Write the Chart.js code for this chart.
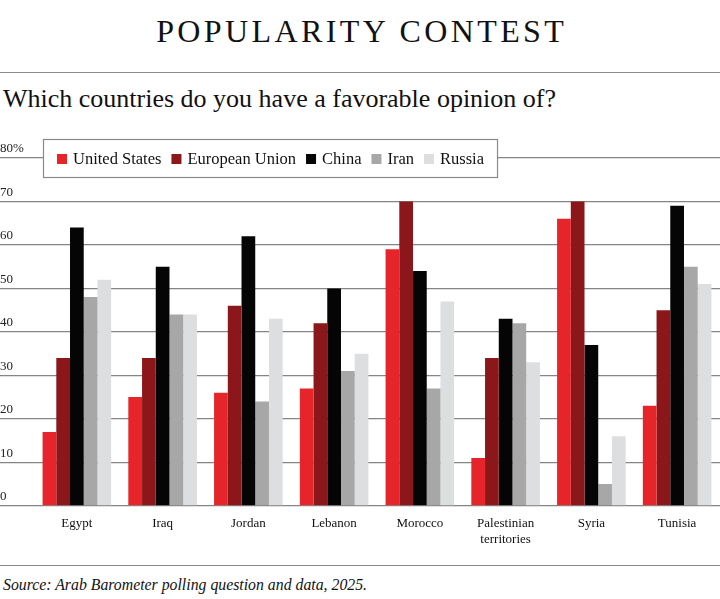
<!DOCTYPE html>
<html>
<head>
<meta charset="utf-8">
<script src="https://cdn.jsdelivr.net/npm/chart.js@4.4.1/dist/chart.umd.min.js"></script>
<style>
html,body{margin:0;padding:0;background:#fff;width:720px;height:599px;overflow:hidden;font-family:"Liberation Serif",serif;color:#111;}
.abs{position:absolute;left:0;white-space:nowrap;}
#title{top:15px;width:720px;text-align:center;font-size:32px;line-height:32px;letter-spacing:3.4px;text-indent:3.4px;}
#rule1{top:72px;width:720px;height:0;border-top:1.5px solid #8a8a8a;}
#subtitle{top:85.5px;left:3px;font-size:26px;line-height:26px;}
#wrap{top:130px;width:720px;height:430px;}
#rule2{top:565px;width:720px;height:0;border-top:1.5px solid #8a8a8a;}
#source{top:577px;left:3px;font-size:15.8px;line-height:16px;font-style:italic;}
</style>
</head>
<body>
<div id="title" class="abs">POPULARITY CONTEST</div>
<div id="rule1" class="abs"></div>
<div id="subtitle" class="abs">Which countries do you have a favorable opinion of?</div>
<div id="wrap" class="abs"><canvas id="c" width="720" height="430"></canvas></div>
<div id="rule2" class="abs"></div>
<div id="source" class="abs">Source: Arab Barometer polling question and data, 2025.</div>
<script>
const categories = ['Egypt', 'Iraq', 'Jordan', 'Lebanon', 'Morocco', ['Palestinian', 'territories'], 'Syria', 'Tunisia'];
const seriesNames = ['United States', 'European Union', 'China', 'Iran', 'Russia'];
const usValues = [17, 25, 26, 27, 59, 11, 66, 23];
const euValues = [34, 34, 46, 42, 70, 34, 70, 45];
const chinaValues = [64, 55, 62, 50, 54, 43, 37, 69];
const iranValues = [48, 44, 24, 31, 27, 42, 5, 55];
const russiaValues = [52, 44, 43, 35, 47, 33, 16, 51];
const yTickValues = [0, 10, 20, 30, 40, 50, 60, 70, 80];
const seriesColors = ['#e5252a', '#8b171b', '#050505', '#a7a7a7', '#dddee0'];

const seriesValues = [usValues, euValues, chinaValues, iranValues, russiaValues];
const FONT = '"Liberation Serif", serif';

const boxLegend = {
  id: 'boxLegend',
  afterDraw(chart) {
    const ctx = chart.ctx;
    const cy = chart.scales.y.getPixelForValue(80);
    ctx.save();
    ctx.font = '16.5px ' + FONT;
    const sw = 10, gapText = 6, gapItem = 10, padL = 14, padR = 13;
    const items = chart.data.datasets.map(d => ({label: d.label, color: d.backgroundColor, w: ctx.measureText(d.label).width}));
    let total = padL + padR;
    items.forEach((it, i) => { total += sw + gapText + it.w + (i < items.length - 1 ? gapItem : 0); });
    const x0 = 43, y0 = Math.round(cy - 19), h = 38;
    ctx.fillStyle = '#fff';
    ctx.fillRect(x0, y0, total, h);
    ctx.strokeStyle = '#8a8a8a';
    ctx.lineWidth = 1.2;
    ctx.strokeRect(x0 + 0.5, y0 + 0.5, total, h);
    let x = x0 + padL;
    ctx.textBaseline = 'alphabetic';
    ctx.textAlign = 'left';
    items.forEach(it => {
      ctx.fillStyle = it.color;
      ctx.fillRect(x, cy - 4, sw, sw);
      x += sw + gapText;
      ctx.fillStyle = '#111';
      ctx.fillText(it.label, x, cy + 6);
      x += it.w + gapItem;
    });
    ctx.restore();
  }
};

new Chart(document.getElementById('c'), {
  type: 'bar',
  data: {
    labels: categories,
    datasets: seriesNames.map((name, i) => ({
      label: name,
      data: seriesValues[i],
      backgroundColor: seriesColors[i],
      borderWidth: 0,
      categoryPercentage: 0.8,
      barPercentage: 1.0
    }))
  },
  options: {
    responsive: false,
    animation: false,
    layout: {padding: {top: 28, bottom: 3, left: 0, right: 0}},
    plugins: {legend: {display: false}, tooltip: {enabled: false}, title: {display: false}},
    scales: {
      x: {
        grid: {display: false, drawTicks: false, tickLength: 0},
        border: {display: false},
        ticks: {font: {family: FONT, size: 13}, color: '#111', padding: 10, maxRotation: 0, autoSkip: false}
      },
      y: {
        min: 0,
        max: 80,
        afterBuildTicks: s => { s.ticks = yTickValues.map(v => ({value: v})); },
        afterFit: s => { s.width = 34; },
        ticks: {
          callback: v => (v === 80 ? v + '%' : String(v)),
          crossAlign: 'far',
          labelOffset: -9,
          padding: 0,
          font: {family: FONT, size: 13},
          color: '#222'
        },
        grid: {color: '#858585', lineWidth: 1.3, tickLength: 34, drawTicks: true},
        border: {display: false}
      }
    }
  },
  plugins: [boxLegend]
});
</script>
</body>
</html>
